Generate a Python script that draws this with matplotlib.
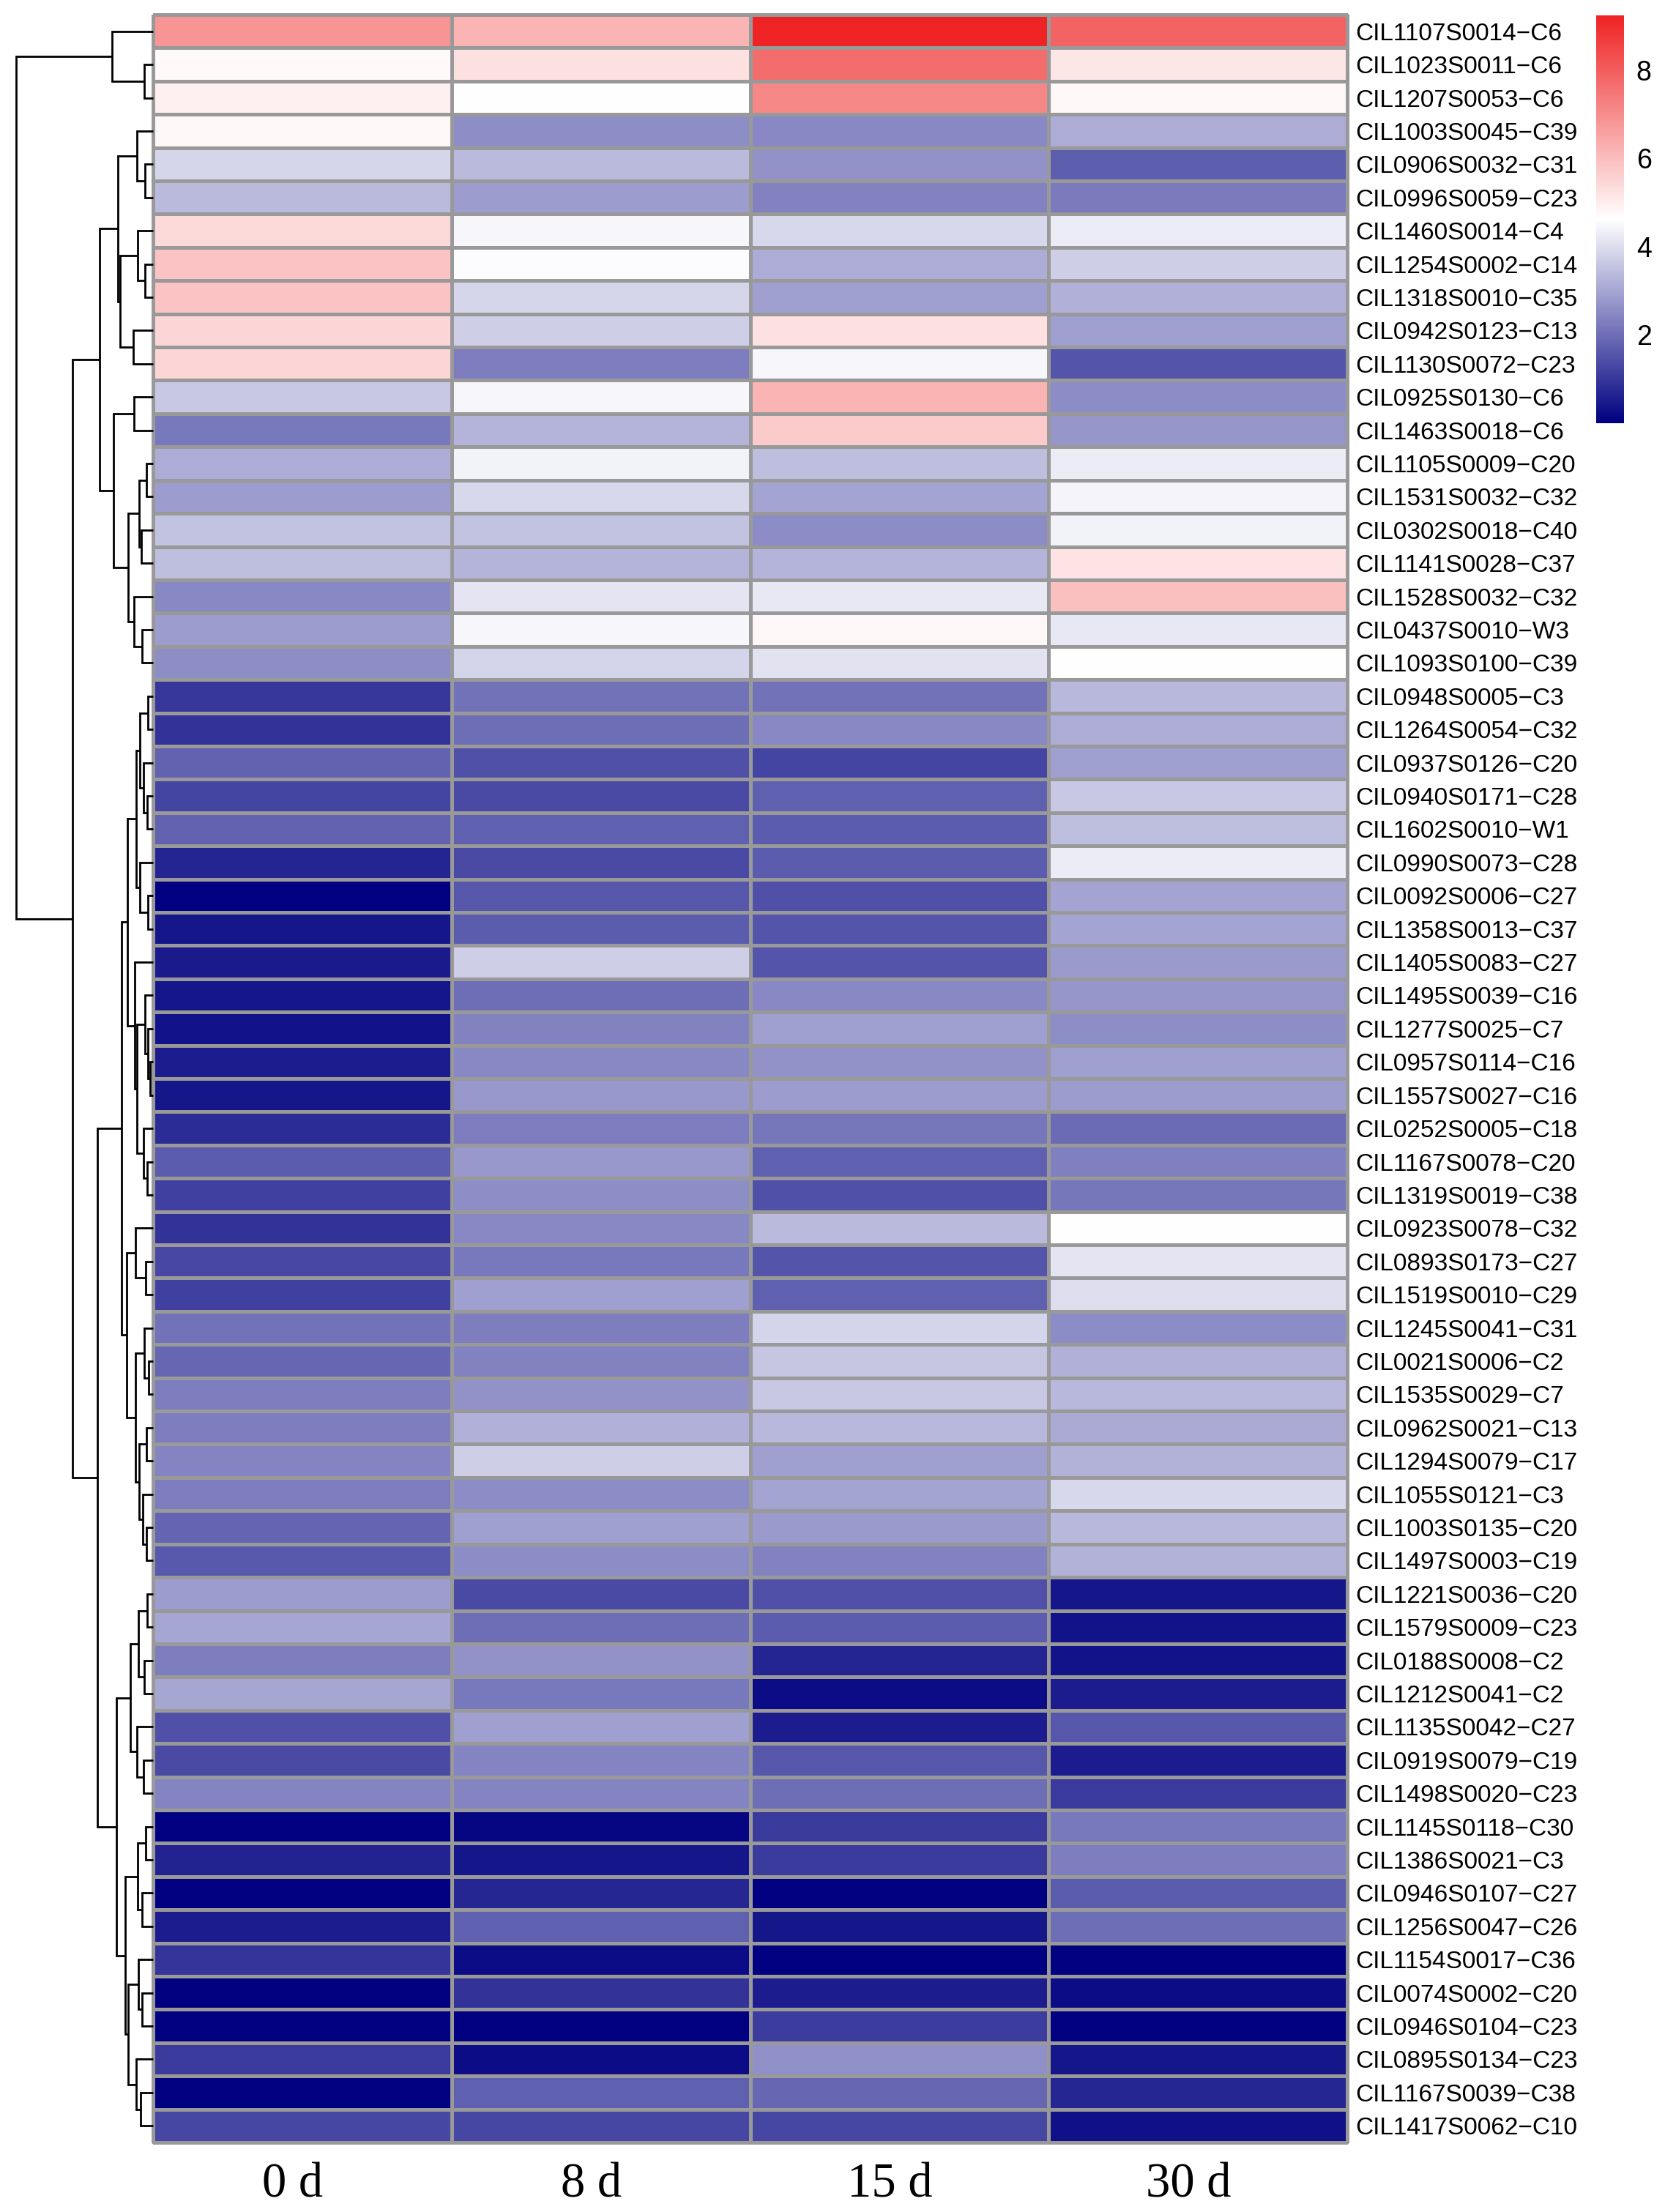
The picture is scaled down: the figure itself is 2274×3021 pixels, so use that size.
import numpy as np
import matplotlib
matplotlib.use("Agg")
import matplotlib.pyplot as plt
from matplotlib.colors import LinearSegmentedColormap
from matplotlib.transforms import ScaledTranslation

# ---------------- data ----------------
row_labels = [
    "CIL1107S0014-C6", "CIL1023S0011-C6", "CIL1207S0053-C6", "CIL1003S0045-C39",
    "CIL0906S0032-C31", "CIL0996S0059-C23", "CIL1460S0014-C4", "CIL1254S0002-C14",
    "CIL1318S0010-C35", "CIL0942S0123-C13", "CIL1130S0072-C23", "CIL0925S0130-C6",
    "CIL1463S0018-C6", "CIL1105S0009-C20", "CIL1531S0032-C32", "CIL0302S0018-C40",
    "CIL1141S0028-C37", "CIL1528S0032-C32", "CIL0437S0010-W3", "CIL1093S0100-C39",
    "CIL0948S0005-C3", "CIL1264S0054-C32", "CIL0937S0126-C20", "CIL0940S0171-C28",
    "CIL1602S0010-W1", "CIL0990S0073-C28", "CIL0092S0006-C27", "CIL1358S0013-C37",
    "CIL1405S0083-C27", "CIL1495S0039-C16", "CIL1277S0025-C7", "CIL0957S0114-C16",
    "CIL1557S0027-C16", "CIL0252S0005-C18", "CIL1167S0078-C20", "CIL1319S0019-C38",
    "CIL0923S0078-C32", "CIL0893S0173-C27", "CIL1519S0010-C29", "CIL1245S0041-C31",
    "CIL0021S0006-C2", "CIL1535S0029-C7", "CIL0962S0021-C13", "CIL1294S0079-C17",
    "CIL1055S0121-C3", "CIL1003S0135-C20", "CIL1497S0003-C19", "CIL1221S0036-C20",
    "CIL1579S0009-C23", "CIL0188S0008-C2", "CIL1212S0041-C2", "CIL1135S0042-C27",
    "CIL0919S0079-C19", "CIL1498S0020-C23", "CIL1145S0118-C30", "CIL1386S0021-C3",
    "CIL0946S0107-C27", "CIL1256S0047-C26", "CIL1154S0017-C36", "CIL0074S0002-C20",
    "CIL0946S0104-C23", "CIL0895S0134-C23", "CIL1167S0039-C38", "CIL1417S0062-C10",
]
col_labels = ["0 d", "8 d", "15 d", "30 d"]

d0 = [6.83, 4.73, 4.94, 4.77, 3.88, 3.39, 5.40, 5.88, 5.88, 5.46, 5.46, 3.62, 2.17, 3.12, 2.83, 3.53,
      3.44, 2.46, 2.83, 2.57, 1.01, 0.91, 1.78, 1.23, 1.78, 0.65, 0.00, 0.40, 0.47, 0.40, 0.33, 0.54,
      0.40, 0.83, 1.67, 1.16, 0.91, 1.30, 1.16, 2.08, 1.85, 2.28, 2.28, 2.39, 2.25, 1.81, 1.59, 2.83,
      3.00, 2.28, 3.00, 1.45, 1.34, 2.39, 0.00, 0.62, 0.00, 0.51, 0.94, 0.07, 0.00, 1.05, 0.00, 1.27]
d8 = [6.20, 5.25, 4.62, 2.57, 3.39, 2.83, 4.44, 4.58, 3.88, 3.75, 2.26, 4.47, 3.26, 4.38, 3.91, 3.53,
      3.26, 4.13, 4.47, 3.86, 2.07, 1.99, 1.45, 1.36, 1.74, 1.36, 1.56, 1.67, 3.73, 1.99, 2.36, 2.46,
      2.75, 2.25, 2.75, 2.57, 2.46, 2.17, 2.90, 2.28, 2.36, 2.64, 3.19, 3.73, 2.54, 2.90, 2.54, 1.34,
      1.99, 2.64, 2.17, 2.90, 2.39, 2.39, 0.11, 0.40, 0.72, 1.74, 0.22, 0.91, 0.00, 0.22, 1.74, 1.27]
d15 = [9.24, 7.67, 7.14, 2.46, 2.66, 2.37, 3.91, 3.12, 2.92, 5.25, 4.47, 6.20, 5.73, 3.44, 2.99, 2.55,
       3.26, 4.20, 4.77, 4.11, 2.07, 2.46, 1.23, 1.74, 1.67, 1.67, 1.45, 1.52, 1.52, 2.46, 2.90, 2.64,
       2.83, 2.14, 1.74, 1.45, 3.37, 1.52, 1.74, 3.84, 3.59, 3.62, 3.33, 2.90, 2.97, 2.79, 2.36, 1.45,
       1.67, 0.65, 0.22, 0.51, 1.56, 1.99, 1.05, 1.05, 0.00, 0.40, 0.00, 0.51, 1.09, 2.61, 1.85, 1.27]
d30 = [7.90, 5.15, 4.77, 3.12, 1.72, 2.23, 4.26, 3.73, 3.19, 2.92, 1.54, 2.54, 2.72, 4.29, 4.42, 4.40,
       5.23, 5.94, 4.20, 4.65, 3.33, 3.12, 2.90, 3.62, 3.44, 4.29, 2.97, 2.97, 2.79, 2.72, 2.57, 2.90,
       2.83, 1.92, 2.32, 2.14, 4.62, 4.13, 4.02, 2.54, 3.19, 3.33, 3.08, 3.22, 3.91, 3.33, 3.22, 0.40,
       0.33, 0.33, 0.51, 1.56, 0.51, 1.05, 2.17, 2.28, 1.67, 1.99, 0.00, 0.22, 0.00, 0.40, 0.72, 0.29]

# row dendrogram: (merge height, left, right); ints are row indices
tree_top = (170, 0, (36, 1, 2))
tree_b = (146, (66, 3, (33, 4, 5)), (136, (63, 6, (33, 7, 8)), (81, 9, 10)))
tree_c = (163, (79, 11, 12), (103, (58, (28, 13, 14), (50, 15, 16)), (79, 17, (46, 18, 19))))
tree_e1 = (70, (55, (21, 20, 21), (40, 22, (24, 23, 24))), (56, 25, (23, 26, 27)))
tree_e2 = (75, 28, (68, (33, 29, (23, 30, (14, 31, 32))), (40, 33, (25, 34, 35))))
tree_f = (110, (73, 36, (31, 37, 38)),
          (73, (36, 39, (20, 40, 41)), (58, (28, 42, 43), (43, 44, (28, 45, 46)))))
tree_g1 = (93, (61, (24, 47, 48), (38, 49, 50)), (66, 51, (40, 52, 53)))
tree_g2 = (116, (63, (31, 54, 55), (46, 56, 57)),
           (103, (61, 58, (46, 59, 60)), (70, 61, (51, 62, 63))))
row_tree = (563, tree_top,
            (330, (220, tree_b, tree_c),
             (230, (131, (106, tree_e1, tree_e2), tree_f), (150, tree_g1, tree_g2))))

# ---------------- figure ----------------
W, H = 2274, 3021
fig = plt.figure(figsize=(W / 100, H / 100), dpi=100)
fig.patch.set_facecolor("white")


def frac(x0, y0, x1, y1):
    return [x0 / W, 1 - y1 / H, (x1 - x0) / W, (y1 - y0) / H]


mat = np.array([d0, d8, d15, d30]).T
nrow, ncol = mat.shape
cmap = LinearSegmentedColormap.from_list("nwr", ["#000080", "#FFFFFF", "#EF2323"], N=256)
vmin, vmax = mat.min(), mat.max()

ax = fig.add_axes(frac(209, 20, 1840, 2926))
mesh = ax.pcolormesh(np.arange(ncol + 1), np.arange(nrow + 1), mat, cmap=cmap,
                     vmin=vmin, vmax=vmax, edgecolors="#999999", linewidth=2.2)
mesh.set_clip_on(False)
ax.set_xlim(0, ncol)
ax.set_ylim(nrow, 0)
for s in ax.spines.values():
    s.set_visible(False)

ax.set_xticks(np.arange(ncol) + 0.5)
ax.set_xticklabels(col_labels, fontfamily="Liberation Serif", fontsize=48)
ax.tick_params(axis="x", length=0, pad=20)
shift = ScaledTranslation(-0.13, 0, fig.dpi_scale_trans)
for t in ax.get_xticklabels():
    t.set_transform(t.get_transform() + shift)
ax.yaxis.tick_right()
ax.set_yticks(np.arange(nrow) + 0.5)
ax.set_yticklabels([s.replace("-", "\u2212") for s in row_labels],
                   fontfamily="Liberation Sans", fontsize=24)
ax.tick_params(axis="y", length=0, pad=8)

# dendrogram
dax = fig.add_axes(frac(0, 20, 209.3, 2926))
dax.set_xlim(628, 0)
dax.set_ylim(nrow, 0)
dax.axis("off")


def draw(node):
    if isinstance(node, int):
        return node + 0.5, 0.0
    h, left, right = node
    yl, hl = draw(left)
    yr, hr = draw(right)
    dax.plot([hl, h, h, hr], [yl, yl, yr, yr], color="black", lw=2.0,
             solid_capstyle="butt", solid_joinstyle="miter", clip_on=False)
    return (yl + yr) / 2, h


draw(row_tree)

# colorbar
cax = fig.add_axes(frac(2180, 21, 2218, 578))
cb = fig.colorbar(mesh, cax=cax)
cb.outline.set_visible(False)
cb.set_ticks([2, 4, 6, 8])
cax.tick_params(length=0, pad=12, labelsize=27)
for t in cax.get_yticklabels():
    t.set_fontfamily("Liberation Sans")

fig.savefig("out.png", dpi=100, facecolor="white")
